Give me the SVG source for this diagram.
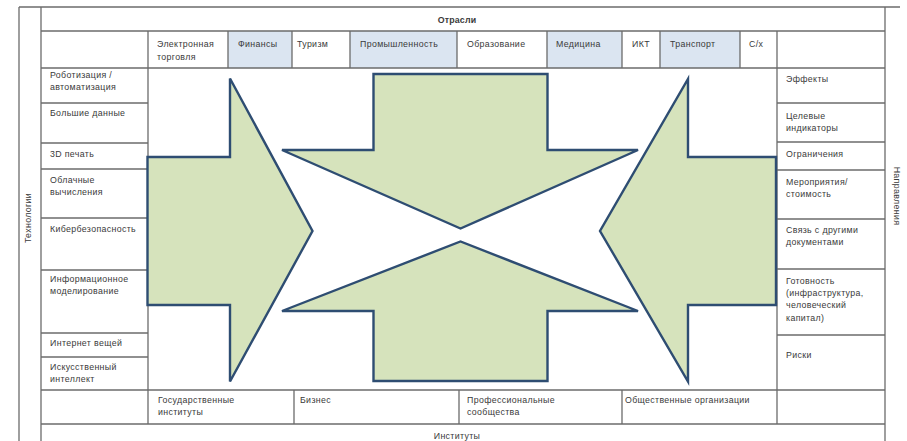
<svg xmlns="http://www.w3.org/2000/svg" width="907" height="441" viewBox="0 0 907 441">
  <style>
    .ln { stroke: #6b6b6b; stroke-width: 1.3; fill: none; }
    .hd { fill: #dbe5f1; }
    .t { font-family: "Liberation Sans", Arial, sans-serif; font-size: 8.8px; letter-spacing: 0.35px; fill: #3a3a3a; }
    .b { font-weight: bold; letter-spacing: 0.2px; }
    .arr { fill: #d6e3bc; stroke: #2e4d72; stroke-width: 2.4; stroke-linejoin: miter; }
  </style>

  <rect width="907" height="441" fill="#ffffff"/>

  <!-- shaded industry cells -->
  <g id="header-shading">
    <rect class="hd" x="228" y="31" width="64" height="37"/>
    <rect class="hd" x="350" y="31" width="107" height="37"/>
    <rect class="hd" x="547" y="31" width="75" height="37"/>
    <rect class="hd" x="660" y="31" width="80" height="37"/>
  </g>

  <!-- table grid -->
  <g id="grid" class="ln">
    <line x1="19" y1="7" x2="900" y2="7"/>
    <line x1="41" y1="31" x2="885" y2="31"/>
    <line x1="41" y1="68" x2="885" y2="68"/>
    <line x1="41" y1="390" x2="885" y2="390"/>
    <line x1="41" y1="424" x2="885" y2="424"/>
    <!-- technology rows -->
    <line x1="41" y1="103" x2="148" y2="103"/>
    <line x1="41" y1="143" x2="148" y2="143"/>
    <line x1="41" y1="169" x2="148" y2="169"/>
    <line x1="41" y1="218" x2="148" y2="218"/>
    <line x1="41" y1="270" x2="148" y2="270"/>
    <line x1="41" y1="333" x2="148" y2="333"/>
    <line x1="41" y1="357" x2="148" y2="357"/>
    <!-- direction rows -->
    <line x1="777" y1="103" x2="885" y2="103"/>
    <line x1="777" y1="142" x2="885" y2="142"/>
    <line x1="777" y1="170" x2="885" y2="170"/>
    <line x1="777" y1="219" x2="885" y2="219"/>
    <line x1="777" y1="269" x2="885" y2="269"/>
    <line x1="777" y1="335" x2="885" y2="335"/>
    <!-- verticals -->
    <line x1="19" y1="7" x2="19" y2="441"/>
    <line x1="41" y1="7" x2="41" y2="441"/>
    <line x1="885" y1="7" x2="885" y2="441"/>
    <line x1="148" y1="31" x2="148" y2="424"/>
    <line x1="777" y1="31" x2="777" y2="424"/>
    <line x1="228" y1="31" x2="228" y2="68"/>
    <line x1="292" y1="31" x2="292" y2="68"/>
    <line x1="350" y1="31" x2="350" y2="68"/>
    <line x1="457" y1="31" x2="457" y2="68"/>
    <line x1="547" y1="31" x2="547" y2="68"/>
    <line x1="622" y1="31" x2="622" y2="68"/>
    <line x1="660" y1="31" x2="660" y2="68"/>
    <line x1="740" y1="31" x2="740" y2="68"/>
    <line x1="294" y1="390" x2="294" y2="424"/>
    <line x1="459" y1="390" x2="459" y2="424"/>
    <line x1="622" y1="390" x2="622" y2="424"/>
  </g>

  <!-- converging block arrows -->
  <g id="arrow-left">
    <polygon class="arr" points="147.5,157 230,157 230,78.5 312.5,231 230,381.5 230,305 147.5,305"/>
  </g>
  <g id="arrow-right">
    <polygon class="arr" points="776,157 688,157 688,79 600,231 688,381.5 688,305 776,305"/>
  </g>
  <g id="arrow-top">
    <polygon class="arr" points="373.5,74 547.5,74 547.5,150 638,150 460.5,228.5 282,150 373.5,150"/>
  </g>
  <g id="arrow-bottom">
    <polygon class="arr" points="373.5,381 547.5,381 547.5,311 638,311 460.5,241.5 282,311 373.5,311"/>
  </g>

  <!-- industries -->
  <g id="industries">
    <text class="t b" x="457" y="23" text-anchor="middle">Отрасли</text>
    <text class="t" x="157" y="47">Электронная</text>
    <text class="t" x="157" y="60">торговля</text>
    <text class="t" x="238" y="47">Финансы</text>
    <text class="t" x="297" y="47">Туризм</text>
    <text class="t" x="360" y="47">Промышленность</text>
    <text class="t" x="467" y="47">Образование</text>
    <text class="t" x="556" y="47">Медицина</text>
    <text class="t" x="632" y="47">ИКТ</text>
    <text class="t" x="670" y="47">Транспорт</text>
    <text class="t" x="749" y="47">С/х</text>
  </g>

  <!-- technologies -->
  <g id="technologies">
    <text class="t" x="31" y="218" text-anchor="middle" transform="rotate(-90 31 218)">Технологии</text>
    <text class="t" x="50" y="78">Роботизация /</text>
    <text class="t" x="50" y="90">автоматизация</text>
    <text class="t" x="50" y="116">Большие данные</text>
    <text class="t" x="50" y="157">3D печать</text>
    <text class="t" x="50" y="183">Облачные</text>
    <text class="t" x="50" y="195">вычисления</text>
    <text class="t" x="50" y="232">Кибербезопасность</text>
    <text class="t" x="50" y="282">Информационное</text>
    <text class="t" x="50" y="294">моделирование</text>
    <text class="t" x="50" y="346">Интернет вещей</text>
    <text class="t" x="50" y="370">Искусственный</text>
    <text class="t" x="50" y="382">интеллект</text>
  </g>

  <!-- directions -->
  <g id="directions">
    <text class="t" x="894" y="196" text-anchor="middle" transform="rotate(90 894 196)">Направления</text>
    <text class="t" x="786" y="82">Эффекты</text>
    <text class="t" x="786" y="119">Целевые</text>
    <text class="t" x="786" y="131">индикаторы</text>
    <text class="t" x="786" y="157">Ограничения</text>
    <text class="t" x="786" y="185">Мероприятия/</text>
    <text class="t" x="786" y="197">стоимость</text>
    <text class="t" x="786" y="233">Связь с другими</text>
    <text class="t" x="786" y="245">документами</text>
    <text class="t" x="786" y="284">Готовность</text>
    <text class="t" x="786" y="296">(инфраструктура,</text>
    <text class="t" x="786" y="308">человеческий</text>
    <text class="t" x="786" y="321">капитал)</text>
    <text class="t" x="786" y="358">Риски</text>
  </g>

  <!-- institutions -->
  <g id="institutions">
    <text class="t" x="158" y="403">Государственные</text>
    <text class="t" x="158" y="415">институты</text>
    <text class="t" x="300" y="403">Бизнес</text>
    <text class="t" x="467" y="403">Профессиональные</text>
    <text class="t" x="467" y="415">сообщества</text>
    <text class="t" x="625" y="403">Общественные организации</text>
    <text class="t" x="457" y="439" text-anchor="middle">Институты</text>
  </g>
</svg>
